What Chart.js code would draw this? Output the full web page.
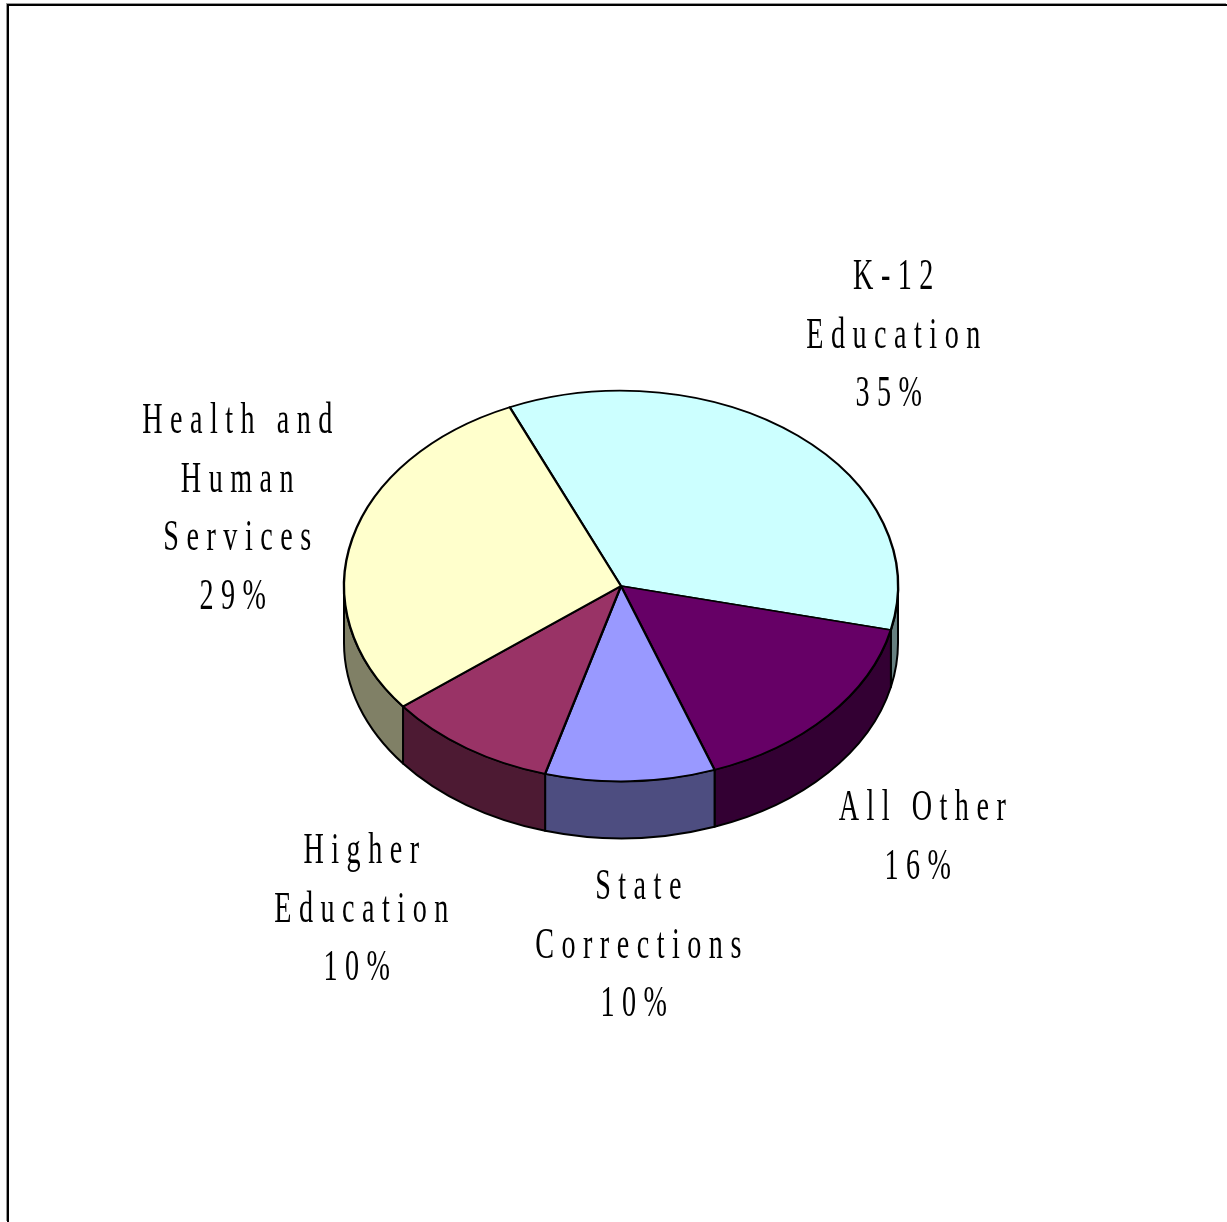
<!DOCTYPE html>
<html lang="en">
<head>
  <meta charset="UTF-8" />
  <title>Budget pie</title>
  <script src="https://cdn.jsdelivr.net/npm/chart.js"></script>
  <style>
    html, body { margin: 0; padding: 0; background: #fff; overflow: hidden; }
    #wrap { position: relative; width: 1227px; height: 1222px; }
    #frame { position: absolute; left: 7px; top: 4px; width: 1220px; height: 1218px; border-left: 2px solid #000; border-top: 2px solid #000; box-sizing: border-box; box-shadow: -1px -1px 0 #999; }
    canvas { position: absolute; left: 0; top: 0; }
  </style>
</head>
<body>
  <div id="wrap">
    <div id="frame"></div>
    <canvas id="pie" width="1227" height="1222"></canvas>
  </div>

  <script>
    const categories = ['K-12 Education', 'All Other', 'State Corrections', 'Higher Education', 'Health and Human Services'];
    // the printed labels are these rounded
    const shares = [35.2, 15.9, 9.9, 10, 29];
    const topColors = ['#CCFFFF', '#660066', '#9999FF', '#993366', '#FFFFCC'];
    const wallColors = ['#668080', '#330033', '#4D4D80', '#4D1A33', '#808066'];
    // how each category name wraps, the share is added as the last line
    const labelLines = [['K-12', 'Education'], ['All Other'], ['State', 'Corrections'], ['Higher', 'Education'], ['Health and', 'Human', 'Services']];
    // centre x and first baseline of each label block
    const labelAnchors = [[897, 289], [926, 820], [642, 899], [365, 863], [241, 433]];

    const SQUASH = 0.705;
    const DEPTH = 57;
    const LINE_H = 58.7;
    const SHARE_SHIFT = -4.5;

    const pie3d = {
      id: 'pie3d',
      beforeDatasetsDraw(chart) {
        const ctx = chart.ctx;
        const arcs = chart.getDatasetMeta(0).data;
        ctx.save();
        ctx.lineWidth = 2;
        ctx.strokeStyle = '#000';
        ctx.lineJoin = 'round';
        arcs.forEach((arc, i) => {
          const p = arc.getProps(['x', 'y', 'startAngle', 'endAngle', 'outerRadius']);
          // only the part of the rim facing the viewer has a wall
          const ranges = [[p.startAngle, p.endAngle], [p.startAngle + 2 * Math.PI, p.endAngle + 2 * Math.PI]];
          ranges.forEach(([s, e]) => {
            const a0 = Math.max(s, 0), a1 = Math.min(e, Math.PI);
            if (a1 <= a0) return;
            ctx.beginPath();
            ctx.ellipse(p.x, p.y, p.outerRadius, p.outerRadius * SQUASH, 0, a0, a1);
            ctx.ellipse(p.x, p.y + DEPTH, p.outerRadius, p.outerRadius * SQUASH, 0, a1, a0, true);
            ctx.closePath();
            ctx.fillStyle = wallColors[i];
            ctx.fill();
            ctx.stroke();
          });
        });
        ctx.restore();

        const c = arcs[0].getProps(['x', 'y']);
        ctx.save();
        ctx.translate(c.x, c.y);
        ctx.scale(1, SQUASH);
        ctx.translate(-c.x, -c.y);
      },
      afterDatasetsDraw(chart) {
        chart.ctx.restore();
      },
      afterDraw(chart) {
        const ctx = chart.ctx;
        ctx.save();
        ctx.fillStyle = '#000';
        ctx.font = '44px "Liberation Serif"';
        ctx.textAlign = 'center';
        ctx.textBaseline = 'alphabetic';
        ctx.letterSpacing = '11.7px';
        categories.forEach((name, i) => {
          const lines = labelLines[i].concat(Math.round(shares[i]) + '%');
          lines.forEach((line, j) => {
            const isShare = j === lines.length - 1;
            ctx.save();
            ctx.translate(labelAnchors[i][0] + (isShare ? SHARE_SHIFT : 0), labelAnchors[i][1] + j * LINE_H);
            ctx.scale(0.64, 1);
            ctx.fillText(line, 0, 0);
            ctx.restore();
          });
        });
        ctx.restore();
      }
    };

    new Chart(document.getElementById('pie'), {
      type: 'pie',
      data: {
        labels: categories,
        datasets: [{
          data: shares,
          backgroundColor: topColors,
          borderColor: '#000',
          borderWidth: 2.4,
          borderJoinStyle: 'round',
          radius: 277
        }]
      },
      options: {
        responsive: false,
        devicePixelRatio: 1,
        animation: false,
        rotation: -23.7,
        layout: { padding: { left: 15, right: 0, top: 0, bottom: 50 } },
        plugins: { legend: { display: false }, tooltip: { enabled: false } }
      },
      plugins: [pie3d]
    });
  </script>
</body>
</html>
